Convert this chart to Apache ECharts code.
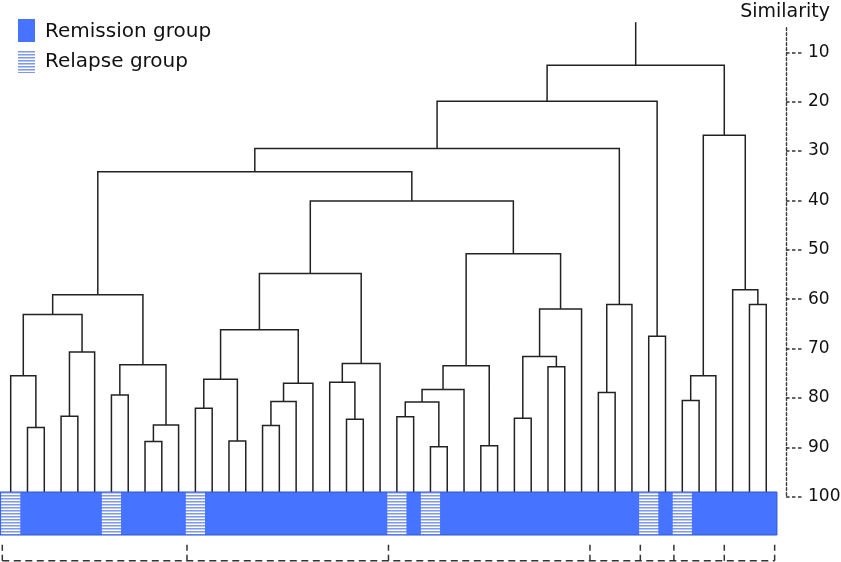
<!DOCTYPE html>
<html>
<head>
<meta charset="utf-8">
<script src="https://cdn.jsdelivr.net/npm/echarts@6/dist/echarts.min.js"></script>
<style>html,body{margin:0;padding:0;background:#fff}#c{width:841px;height:562px}</style>
</head>
<body>
<div id="c"></div>
<script>
// ---------- data ----------
const leafGroup = [1,0,0,0,0,0,1,0,0,0,0,1,0,0,0,0,0,0,0,0,0,0,0,1,0,1,0,0,0,0,0,0,0,0,0,0,0,0,1,0,1,0,0,0,0,0]; // 1 = relapse
const mergeLeft  = [1,0,3,48,47, 6,8,52,51,50, 11,13,56,15,59, 60,58,20,19,64, 62,23,25,67,69, 28,70,30,32,73, 75,72,66,55,35, 80,79,38,82,40, 85,44,43,86,84];
const mergeRight = [2,46,4,5,49, 7,9,10,53,54, 12,14,57,16,17, 18,61,21,63,22, 65,24,26,68,27, 29,71,31,33,74, 34,76,77,78,36, 37,81,39,83,41, 42,45,87,88,89];
const mergeSimilarity = [86.0,75.5,83.7,70.7,63.1, 79.4,88.8,85.5,73.3,59.1, 82.1,88.7,76.2,85.6,80.7, 77.0,66.2,84.3,76.8,73.0, 54.8,83.8,89.9,80.8,78.3, 89.7,73.5,84.1,73.7,71.6, 62.0,50.8,40.1,34.2,78.9, 61.1,29.5,67.5,19.9,80.5, 75.5,61.1,58.1,26.8,12.6];
const leafSimilarity = 100;
const rootStubTop = 3.9;
const groupBoundaries = [-0.5, 10.5, 22.5, 34.5, 37.5, 39.5, 42.5, 45.5];
const similarityTicks = [10,20,30,40,50,60,70,80,90,100];
const legendLabels = ['Remission group', 'Relapse group'];
const axisTitle = 'Similarity';

// ---------- derived ----------
const leafCount = leafGroup.length;
const nodeX = [], nodeH = [];
for (let i = 0; i < leafCount; i++) { nodeX[i] = i; nodeH[i] = leafSimilarity; }
const links = [];
mergeLeft.forEach((l, k) => {
  const r = mergeRight[k], id = leafCount + k, h = mergeSimilarity[k];
  nodeX[id] = (nodeX[l] + nodeX[r]) / 2; nodeH[id] = h;
  links.push([nodeX[l], nodeH[l], nodeX[r], nodeH[r], h]);
});
const rootId = leafCount + mergeLeft.length - 1;
const relapseLeaves = [];
leafGroup.forEach((g, i) => { if (g === 1) relapseLeaves.push([i]); });

// ---------- styles ----------
const FONT = '"DejaVu Sans", Verdana, sans-serif';
const BLUE = '#4673ff';
const LINE = '#222222';
function makeStripe() {
  const c = document.createElement('canvas');
  c.width = 4; c.height = 3;
  const g = c.getContext('2d');
  g.fillStyle = '#ffffff'; g.fillRect(0, 0, 4, 3);
  g.fillStyle = '#7f99f1'; g.fillRect(0, 0, 4, 1);
  g.fillStyle = '#bac8f9'; g.fillRect(0, 1, 4, 1);
  return c;
}
const stripeCanvas = makeStripe();
const stripeFill = { image: stripeCanvas, repeat: 'repeat' };

const chart = echarts.init(document.getElementById('c'), null, { renderer: 'canvas' });
chart.setOption({
  animation: false,
  backgroundColor: '#ffffff',
  grid: { left: 0, right: 55, top: 27.6, height: 469.1, containLabel: false, outerBoundsMode: 'none' },
  xAxis: { type: 'value', min: -0.637, max: 46.176, show: false },
  yAxis: {
    type: 'value', position: 'right', inverse: true, min: 5, max: 100,
    axisLine: { show: true, onZero: false, lineStyle: { color: '#3a3a3a', width: 1.4, type: [3, 2] } },
    axisTick: { show: true, length: 17, customValues: similarityTicks, lineStyle: { color: '#333', width: 1.5, type: [3.5, 2.5] } },
    axisLabel: { show: true, customValues: similarityTicks, margin: 22, fontSize: 17, color: '#111', fontFamily: FONT },
    splitLine: { show: false }
  },
  graphic: [
    { type: 'rect', shape: { x: 18, y: 19, width: 17, height: 23 }, style: { fill: BLUE } },
    { type: 'text', x: 45, y: 32, style: { text: legendLabels[0], font: '20px ' + FONT, fill: '#111', verticalAlign: 'middle', textVerticalAlign: 'middle' } },
    { type: 'rect', shape: { x: 18, y: 50, width: 17, height: 23 }, style: { fill: stripeFill } },
    { type: 'text', x: 45, y: 62, style: { text: legendLabels[1], font: '20px ' + FONT, fill: '#111', verticalAlign: 'middle', textVerticalAlign: 'middle' } },
    { type: 'text', x: 830, y: 12, style: { text: axisTitle, font: '19px ' + FONT, fill: '#111', align: 'right', textAlign: 'right', verticalAlign: 'middle', textVerticalAlign: 'middle' } }
  ],
  series: [
    {
      type: 'custom', name: 'dendrogram', z: 2,
      data: links,
      encode: { x: [0, 2], y: [1, 3, 4] },
      renderItem: (params, api) => {
        const p1 = api.coord([api.value(0), api.value(1)]);
        const p2 = api.coord([api.value(0), api.value(4)]);
        const p3 = api.coord([api.value(2), api.value(4)]);
        const p4 = api.coord([api.value(2), api.value(3)]);
        return { type: 'polyline', shape: { points: [p1, p2, p3, p4] }, style: { stroke: LINE, lineWidth: 1.5, fill: null } };
      }
    },
    {
      type: 'custom', name: 'root', z: 2,
      data: [[nodeX[rootId], nodeH[rootId], rootStubTop]],
      encode: { x: 0, y: [1, 2] },
      renderItem: (params, api) => {
        const a = api.coord([api.value(0), api.value(1)]);
        const b = api.coord([api.value(0), api.value(2)]);
        return { type: 'line', shape: { x1: a[0], y1: a[1], x2: b[0], y2: b[1] }, style: { stroke: LINE, lineWidth: 1.5 } };
      }
    },
    {
      type: 'custom', name: 'groupBar', z: 3,
      data: [[groupBoundaries[0], groupBoundaries[groupBoundaries.length - 1]]],
      encode: { x: [0, 1] },
      renderItem: (params, api) => {
        const a = api.coord([api.value(0), leafSimilarity]);
        const b = api.coord([api.value(1), leafSimilarity]);
        return { type: 'rect', shape: { x: a[0] - 2.3, y: a[1] - 4.7, width: b[0] - a[0] + 4.6, height: 43 }, style: { fill: BLUE, stroke: '#2f55d0', lineWidth: 1 } };
      }
    },
    {
      type: 'custom', name: 'relapse', z: 4,
      data: relapseLeaves,
      encode: { x: 0 },
      renderItem: (params, api) => {
        const i = api.value(0);
        const a = api.coord([i - 0.5, leafSimilarity]);
        const b = api.coord([i + 0.5, leafSimilarity]);
        return { type: 'rect', shape: { x: a[0] - 1.2, y: a[1] - 4.2, width: b[0] - a[0] + 2.4, height: 42 }, style: { fill: stripeFill } };
      }
    },
    {
      type: 'custom', name: 'brackets', z: 2,
      data: groupBoundaries.map(v => [v]),
      encode: { x: 0 },
      renderItem: (params, api) => {
        const v = api.value(0);
        const a = api.coord([v, leafSimilarity]);
        const children = [
          { type: 'line', shape: { x1: a[0], y1: a[1] + 48, x2: a[0], y2: a[1] + 64 }, style: { stroke: '#333', lineWidth: 1.5, lineDash: [6, 4] } }
        ];
        if (params.dataIndex === 0) {
          const e = api.coord([groupBoundaries[groupBoundaries.length - 1], leafSimilarity]);
          children.push({ type: 'line', shape: { x1: a[0], y1: a[1] + 64, x2: e[0], y2: a[1] + 64 }, style: { stroke: '#333', lineWidth: 1.5, lineDash: [7, 4.5] } });
        }
        return { type: 'group', children };
      }
    }
  ]
});
</script>
</body>
</html>
